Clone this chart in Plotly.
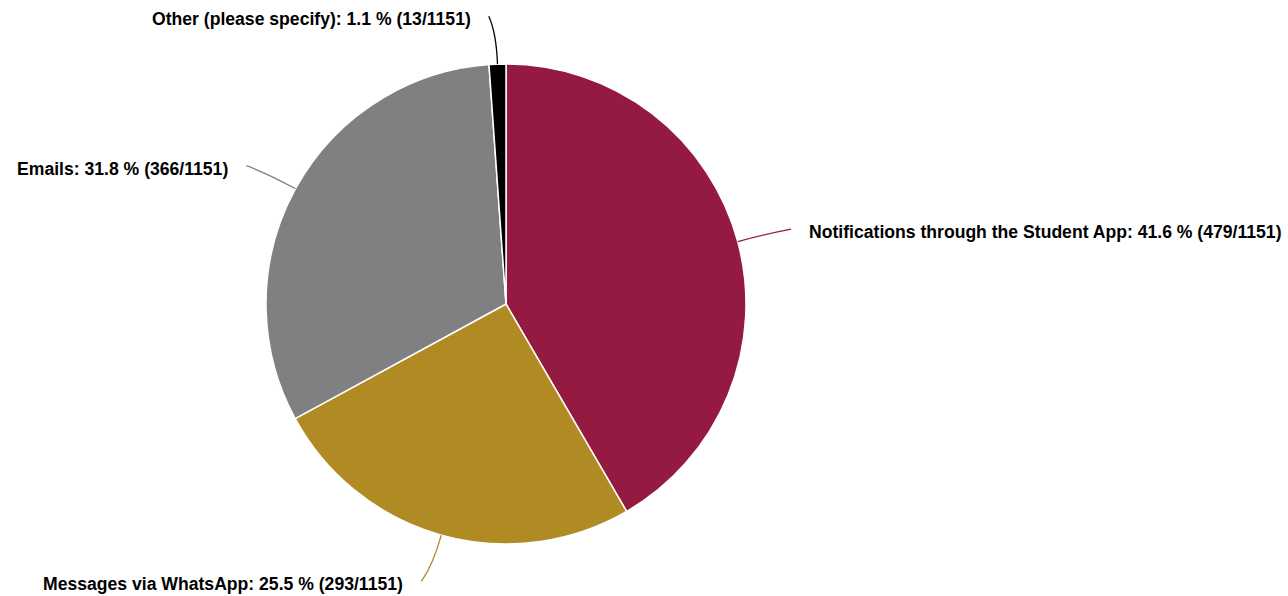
import math
import plotly.graph_objects as go

# Survey answers: preferred channel for receiving information
categories = [
    "Notifications through the Student App",
    "Messages via WhatsApp",
    "Emails",
    "Other (please specify)",
]
counts = [479, 293, 366, 13]
colors = ["#951a41", "#b08a23", "#808083", "#000000"]

W, H = 1288, 596
CX, CY, R = 506, 304, 240          # pie centre and radius in pixels
total = sum(counts)


def px(x):
    return x / W


def py(y):
    return 1 - y / H


fig = go.Figure(
    go.Pie(
        labels=categories,
        values=counts,
        sort=False,
        direction="clockwise",
        rotation=0,
        marker=dict(colors=colors, line=dict(color="#ffffff", width=1.5)),
        textinfo="none",
        hoverinfo="label+value+percent",
        showlegend=False,
        domain=dict(x=[px(CX - R), px(CX + R)], y=[py(CY + R), py(CY - R)]),
    )
)

# Outside labels with curved leader lines, placed at each slice's mid angle
cum = 0
for name, n, col in zip(categories, counts, colors):
    mid = math.radians(360 * (cum + n / 2) / total)
    cum += n
    dx, dy = math.sin(mid), -math.cos(mid)
    side = 1 if dx >= 0 else -1
    p0 = (CX + R * dx, CY + R * dy)
    p1 = (CX + 1.13 * R * dx, CY + 1.13 * R * dy)
    p2 = (CX + 1.2 * R * dx + 7 * side, CY + 1.2 * R * dy)
    path = (
        f"M {px(p0[0])},{py(p0[1])} "
        f"Q {px(p1[0])},{py(p1[1])} {px(p2[0])},{py(p2[1])}"
    )
    fig.add_shape(
        type="path", path=path, xref="paper", yref="paper",
        line=dict(color=col, width=1.3),
    )
    pct = 100 * n / total
    fig.add_annotation(
        x=px(p2[0]), y=py(p2[1]), xref="paper", yref="paper",
        text=f"<b>{name}: {pct:.1f} % ({n}/{total})</b>",
        showarrow=False,
        xanchor="left" if side > 0 else "right",
        yanchor="middle",
        xshift=16 * side,
        yshift=-3,
        font=dict(family="Liberation Sans, Arial, sans-serif", size=17.6, color="#000000"),
    )

fig.update_layout(
    width=W,
    height=H,
    margin=dict(l=0, r=0, t=0, b=0),
    paper_bgcolor="#ffffff",
    plot_bgcolor="#ffffff",
)

fig.write_html("out.html")
